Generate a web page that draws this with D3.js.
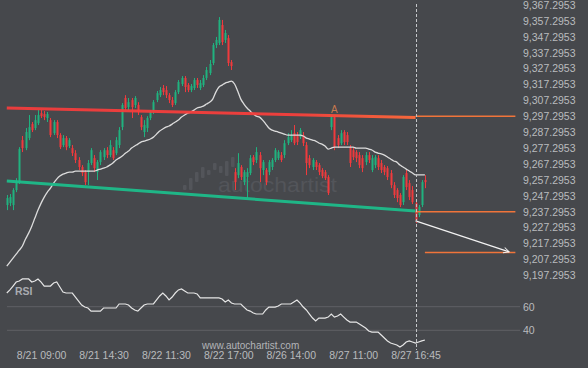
<!DOCTYPE html>
<html><head><meta charset="utf-8">
<script src="https://cdn.jsdelivr.net/npm/d3@7"></script>
<style>html,body{margin:0;padding:0;background:#46484c;overflow:hidden}</style>
</head><body><svg id="c" width="588" height="368"></svg>
<script>
// ---------- data ----------
const priceTicks = [9367.2953, 9357.2953, 9347.2953, 9337.2953, 9327.2953, 9317.2953, 9307.2953, 9297.2953, 9287.2953, 9277.2953, 9267.2953, 9257.2953, 9247.2953, 9237.2953, 9227.2953, 9217.2953, 9207.2953, 9197.2953];
const rsiTicks = [60, 40];
const timeLabelIdx = [11, 31, 51, 71, 91, 111, 131];
const timeLabels = ["8/21 09:00", "8/21 14:30", "8/22 11:30", "8/22 17:00", "8/26 14:00", "8/27 11:00", "8/27 16:45"];

const open = [
9241.5,9242.7,9241.5,9250.9,9255.9,9282.3,9277.3,9283.6,9292.4,9289.9,
9293.0,9299.3,9298.7,9296.2,9294.9,9286.7,9293.7,9285.5,9279.2,9283.6,
9278.6,9277.3,9274.1,9269.8,9265.4,9262.2,9262.2,9267.9,9271.0,9262.2,
9268.5,9271.6,9276.0,9272.9,9276.0,9274.1,9279.2,9290.5,9308.8,9303.1,
9307.5,9304.4,9304.4,9296.8,9287.4,9289.9,9296.2,9300.0,9307.5,9310.6,
9315.1,9313.8,9310.6,9307.5,9305.6,9312.5,9317.6,9321.4,9317.0,9313.8,
9315.1,9320.1,9315.1,9317.0,9321.4,9324.5,9330.8,9342.1,9343.4,9354.7,
9345.3,9346.5,9331.4,9262.2,9260.3,9265.4,9255.9,9259.1,9261.6,9271.6,
9269.8,9272.9,9263.5,9263.5,9262.2,9265.4,9269.8,9271.0,9272.9,9272.9,
9280.4,9282.3,9286.7,9285.5,9284.2,9285.5,9279.2,9271.0,9265.4,9268.5,
9266.6,9263.5,9262.2,9259.1,9290.5,9296.8,9283.6,9280.4,9287.4,9285.5,
9277.9,9276.0,9274.8,9272.9,9271.0,9268.5,9272.9,9263.5,9266.6,9271.0,
9267.9,9265.4,9264.7,9261.6,9254.0,9250.9,9247.8,9243.3,9261.6,9255.3,
9250.9,9242.7,9235.2,9241.5,9257.2];
const high = [
9247.8,9248.4,9252.1,9258.4,9277.9,9284.9,9289.9,9298.1,9293.7,9298.1,
9301.2,9301.2,9300.6,9300.0,9296.2,9294.9,9294.9,9286.7,9285.5,9284.9,
9283.6,9279.2,9276.0,9271.6,9266.6,9263.5,9269.8,9277.3,9272.9,9269.8,
9276.0,9277.3,9277.9,9282.3,9277.9,9284.2,9290.5,9305.6,9310.6,9308.8,
9308.8,9310.0,9306.2,9298.1,9294.9,9297.4,9301.2,9307.5,9313.2,9315.7,
9317.0,9316.3,9311.9,9309.4,9313.8,9320.1,9322.6,9322.6,9318.2,9317.6,
9321.4,9321.4,9320.1,9323.2,9328.3,9332.7,9343.4,9347.2,9359.7,9357.9,
9351.6,9348.4,9332.7,9264.7,9274.1,9266.6,9263.5,9264.7,9272.9,9272.9,
9277.9,9274.8,9269.8,9264.7,9269.8,9271.0,9277.3,9276.0,9274.8,9282.3,
9286.7,9288.6,9291.8,9287.4,9289.9,9287.4,9281.1,9272.9,9271.0,9269.8,
9267.9,9264.7,9263.5,9260.3,9297.4,9297.4,9285.5,9288.6,9288.6,9287.4,
9279.2,9277.9,9276.0,9274.8,9272.9,9274.8,9274.8,9272.9,9272.9,9272.9,
9269.8,9266.6,9266.0,9263.5,9255.9,9252.1,9249.0,9260.3,9263.5,9257.2,
9253.4,9244.6,9241.5,9257.2,9260.3];
const low = [
9238.3,9240.8,9238.3,9249.6,9254.7,9274.8,9276.0,9282.3,9287.4,9288.6,
9291.8,9296.2,9294.9,9293.7,9284.2,9285.5,9283.6,9276.7,9277.9,9276.0,
9277.3,9272.3,9267.9,9263.5,9259.7,9254.0,9254.0,9266.6,9262.2,9257.2,
9266.6,9269.8,9271.0,9271.6,9269.8,9272.9,9277.3,9288.6,9301.2,9301.2,
9296.2,9302.5,9298.1,9288.6,9284.2,9287.4,9294.9,9298.7,9306.2,9309.4,
9310.6,9308.8,9305.6,9303.1,9304.4,9311.3,9316.3,9312.5,9312.5,9312.5,
9313.8,9315.1,9313.8,9315.7,9320.1,9323.2,9329.5,9340.2,9342.1,9342.1,
9343.4,9328.9,9326.4,9250.9,9258.4,9257.2,9254.0,9245.9,9260.3,9266.6,
9267.9,9255.9,9260.3,9254.0,9260.3,9263.5,9268.5,9269.8,9268.5,9271.0,
9279.2,9281.1,9279.2,9279.2,9283.0,9278.6,9260.3,9264.7,9263.5,9263.5,
9260.3,9258.4,9257.2,9247.8,9288.6,9276.0,9277.3,9279.2,9279.2,9279.2,
9265.4,9269.8,9268.5,9264.7,9262.2,9266.6,9267.9,9262.2,9264.7,9263.5,
9261.6,9260.3,9257.2,9252.1,9245.9,9243.3,9240.2,9241.5,9250.9,9244.6,
9242.1,9230.1,9233.9,9240.2,9252.1];
const close = [
9245.9,9246.5,9250.9,9255.9,9276.7,9277.3,9287.4,9290.5,9288.6,9294.9,
9298.1,9297.4,9296.8,9298.7,9285.5,9293.7,9285.5,9277.9,9283.6,9277.9,
9282.3,9274.1,9269.8,9265.4,9261.6,9255.9,9267.9,9276.0,9264.7,9268.5,
9274.8,9276.0,9272.9,9279.2,9271.0,9282.3,9288.6,9304.4,9302.5,9306.2,
9303.1,9308.8,9300.0,9290.5,9291.8,9296.2,9300.0,9306.2,9311.9,9313.8,
9312.5,9310.6,9307.5,9304.4,9312.5,9318.9,9321.4,9315.7,9313.8,9316.3,
9320.1,9317.0,9318.2,9321.4,9326.4,9330.2,9342.1,9345.3,9357.9,9344.0,
9349.7,9330.8,9328.9,9255.9,9267.9,9259.1,9262.2,9262.2,9271.0,9268.5,
9274.8,9264.7,9268.5,9255.9,9268.5,9269.8,9276.0,9274.8,9269.8,9280.4,
9284.2,9285.5,9280.4,9281.1,9288.6,9280.4,9267.9,9266.6,9269.8,9265.4,
9262.2,9259.7,9258.4,9249.0,9296.8,9277.9,9279.2,9286.7,9281.1,9281.1,
9267.9,9271.6,9271.0,9266.6,9264.7,9272.9,9269.8,9271.0,9271.6,9265.4,
9263.5,9262.2,9259.1,9254.0,9247.8,9245.9,9241.5,9259.1,9252.8,9246.5,
9243.3,9232.0,9240.2,9255.9,9255.9];
const movingAvg = [
9203.1,9205.6,9208.1,9210.6,9213.1,9215.7,9220.1,9223.8,9228.2,9233.3,
9238.3,9242.7,9246.5,9249.6,9252.1,9255.3,9257.8,9259.7,9260.9,9261.6,
9262.2,9262.2,9262.8,9262.8,9262.8,9262.8,9262.8,9262.8,9262.8,9263.5,
9264.1,9264.7,9265.4,9266.6,9267.9,9269.8,9271.0,9272.3,9274.1,9275.4,
9277.3,9278.6,9279.8,9281.1,9281.7,9282.3,9283.0,9284.2,9286.1,9288.0,
9289.3,9290.5,9291.2,9292.4,9293.7,9294.9,9296.8,9298.1,9299.3,9300.0,
9301.2,9302.5,9303.1,9303.7,9305.0,9306.2,9308.1,9312.5,9315.7,9316.9,
9318.2,9318.8,9319.4,9317.6,9313.2,9308.1,9305.0,9302.5,9300.6,9298.7,
9297.4,9296.8,9294.9,9292.4,9289.9,9288.6,9288.0,9287.4,9286.7,9286.1,
9285.5,9285.5,9285.5,9285.5,9285.5,9284.9,9283.6,9283.0,9282.3,9281.7,
9280.5,9279.8,9278.6,9276.7,9277.3,9277.9,9277.9,9277.9,9277.9,9277.9,
9277.9,9277.9,9277.3,9277.3,9277.3,9277.3,9276.7,9276.1,9274.8,9274.2,
9273.6,9272.9,9271.7,9270.4,9269.2,9268.5,9266.6,9265.4,9264.1,9262.9,
9261.6,9260.4,9260.4,9260.4,9260.4];
const rsi = [
71.6,74.2,77.5,80.9,81.8,83.5,83.5,83.5,80.9,81.8,
83.5,80.9,77.5,77.5,77.5,80.1,80.9,76.7,72.5,71.6,
71.6,71.6,68.2,64.8,61.4,59.7,58.9,56.3,56.3,56.3,
56.3,58.9,58.9,58.9,58.9,58.9,62.3,62.3,62.3,61.4,
58.9,57.2,56.3,58.9,61.4,62.3,62.3,62.3,65.7,69.1,
71.6,69.1,65.7,68.2,71.6,74.2,75.0,73.3,71.6,71.6,
71.6,70.8,67.4,67.4,67.4,67.4,67.4,67.4,67.4,66.5,
64.0,65.7,63.1,62.3,62.3,62.3,59.7,57.2,56.3,54.6,
53.8,53.8,53.8,57.2,59.7,59.7,59.7,60.6,62.3,62.3,
62.3,62.3,64.0,65.7,63.1,59.7,57.2,53.8,50.4,47.9,
50.4,50.4,50.4,51.2,53.8,51.2,52.1,53.8,51.2,48.7,
47.0,47.0,47.0,45.3,43.6,41.9,39.4,38.5,38.5,38.5,
36.0,33.5,31.0,29.2,28.4,27.5,25.8,27.5,30.1,31.0,
30.1,29.2,30.1,31.0,31.8];

const resistance = [[0, 9302.5], [131, 9296.5]];
const support = [[0, 9256.6], [131, 9237.7]];
const levels = [9297.2953, 9237.2953];
const levelSpan = [131, 163];
const target = 9211.6;
const targetSpan = [134, 163];
const forecast = [[131, 9231.5], [161, 9212.0]];
const pointA = {i: 105, p: 9299.1, label: "A"};
const patternEnd = 131;

// ---------- drawing ----------
const svg = d3.select("#c");
const BG = "#46484c", TXT = "#b9bbbe", UP = "#20b27f", DN = "#f03a3d";
const font = "'Liberation Sans', Arial, sans-serif";

const x = d3.scaleLinear().domain([0, 134]).range([6.8, 424.9]);
const y = d3.scaleLinear().domain([9197.2953, 9367.2953]).range([275.3, 5]);
const yR = d3.scaleLinear().domain([40, 60]).range([330.3, 306.7]);

svg.append("rect").attr("width", 588).attr("height", 368).attr("fill", BG);

const defs = svg.append("defs");
const grad = defs.append("linearGradient").attr("id", "resGrad")
  .attr("gradientUnits", "userSpaceOnUse")
  .attr("x1", x(0)).attr("x2", x(patternEnd)).attr("y1", 0).attr("y2", 0);
grad.append("stop").attr("offset", 0).attr("stop-color", "#f23c3c");
grad.append("stop").attr("offset", 0.7).attr("stop-color", "#f53f3c");
grad.append("stop").attr("offset", 1).attr("stop-color", "#ff6a3a");
defs.append("marker").attr("id", "arr").attr("viewBox", "-1 -5 10 10")
  .attr("refX", 7).attr("refY", 0).attr("markerWidth", 8).attr("markerHeight", 8)
  .attr("markerUnits", "userSpaceOnUse").attr("orient", "auto")
  .append("path").attr("d", "M0,-3.5L7,0L0,3.5").attr("fill", "none")
  .attr("stroke", "#f2f2f2").attr("stroke-width", 1.2);

// watermark
const wm = svg.append("g").attr("fill", "#53555a");
[[183,185,190],[189,178,190],[195,172,182],[201,167,178],[207,170,175],[213,163,170],[219,166,173],[225,161,176],[231,157,167]]
  .forEach(b => wm.append("rect").attr("x", b[0]).attr("y", b[1]).attr("width", 3.5).attr("height", b[2]-b[1]).attr("rx", 1));
wm.append("text").attr("x", 218).attr("y", 191.5).attr("font-family", font)
  .attr("font-size", 21).attr("textLength", 119).attr("lengthAdjust", "spacingAndGlyphs")
  .text("autochartist");

// RSI grid
svg.append("g").selectAll("line").data(rsiTicks).join("line")
  .attr("x1", 7).attr("x2", 520).attr("y1", d => yR(d)).attr("y2", d => yR(d))
  .attr("stroke", "#5f6165").attr("stroke-width", 1);

// candles
const idx = d3.range(open.length);
const cg = svg.append("g");
cg.selectAll("line").data(idx).join("line")
  .attr("x1", i => Math.round(x(i)) + 0.5).attr("x2", i => Math.round(x(i)) + 0.5)
  .attr("y1", i => y(high[i])).attr("y2", i => y(low[i]))
  .attr("stroke", i => close[i] >= open[i] ? UP : DN).attr("stroke-width", 1);
cg.selectAll("rect").data(idx).join("rect")
  .attr("x", i => Math.round(x(i)) - 0.5).attr("width", 2)
  .attr("y", i => y(Math.max(open[i], close[i])))
  .attr("height", i => Math.max(1, Math.abs(y(open[i]) - y(close[i]))))
  .attr("fill", i => close[i] >= open[i] ? UP : DN);

// moving average
svg.append("path").datum(idx)
  .attr("d", d3.line().x(i => x(i)).y(i => y(movingAvg[i])).curve(d3.curveMonotoneX))
  .attr("fill", "none").attr("stroke", "#dcdcdc").attr("stroke-width", 1.3);

// pattern lines
const pl = d3.line().x(d => x(d[0])).y(d => y(d[1]));
svg.append("path").datum(resistance).attr("d", pl).attr("stroke", "url(#resGrad)")
  .attr("stroke-width", 3).attr("fill", "none").attr("opacity", 0.95);
svg.append("path").datum(support).attr("d", pl).attr("stroke", "#1dbd8a")
  .attr("stroke-width", 3).attr("fill", "none").attr("opacity", 0.95);

// level lines
svg.append("g").selectAll("line").data(levels).join("line")
  .attr("x1", x(levelSpan[0])).attr("x2", x(levelSpan[1]))
  .attr("y1", d => y(d)).attr("y2", d => y(d))
  .attr("stroke", "#f0743a").attr("stroke-width", 1.5);
svg.append("line").attr("x1", x(targetSpan[0])).attr("x2", x(targetSpan[1]))
  .attr("y1", y(target)).attr("y2", y(target))
  .attr("stroke", "#f0743a").attr("stroke-width", 1.6);

// forecast arrow
svg.append("line").attr("x1", x(forecast[0][0])).attr("y1", y(forecast[0][1]))
  .attr("x2", x(forecast[1][0])).attr("y2", y(forecast[1][1]))
  .attr("stroke", "#f2f2f2").attr("stroke-width", 1.2).attr("marker-end", "url(#arr)");

// dashed vertical at pattern end
svg.append("line").attr("x1", Math.round(x(patternEnd)) + 0.5).attr("x2", Math.round(x(patternEnd)) + 0.5)
  .attr("y1", 4).attr("y2", 350).attr("stroke", "#c4c6c9").attr("stroke-width", 1)
  .attr("stroke-dasharray", "3,2");

// point A
svg.append("text").attr("x", x(pointA.i)).attr("y", y(pointA.p)).attr("text-anchor", "middle")
  .attr("font-family", font).attr("font-size", 10).attr("fill", "#c97a4e").text(pointA.label);

// RSI line
svg.append("path").datum(idx)
  .attr("d", d3.line().x(i => x(i)).y(i => yR(rsi[i])))
  .attr("fill", "none").attr("stroke", "#e6e6e6").attr("stroke-width", 1.2);
svg.append("text").attr("x", 15).attr("y", 294.5).attr("font-family", font)
  .attr("font-size", 10.5).attr("font-weight", "bold").attr("fill", "#a9abb0").text("RSI");

// axes
const fmt = d3.format(",.4f");
const pa = svg.append("g").attr("transform", "translate(523,0)")
  .call(d3.axisRight(y).tickValues(priceTicks).tickFormat(fmt).tickSize(0).tickPadding(0));
const ra = svg.append("g").attr("transform", "translate(523,0)")
  .call(d3.axisRight(yR).tickValues(rsiTicks).tickFormat(d3.format("d")).tickSize(0).tickPadding(0));
const xa = svg.append("g").attr("transform", "translate(0,352)")
  .call(d3.axisBottom(x).tickValues(timeLabelIdx).tickFormat((d, k) => timeLabels[k]).tickSize(0).tickPadding(0));
[pa, ra, xa].forEach(g => {
  g.select(".domain").remove();
  g.selectAll("text").attr("fill", TXT).attr("font-family", font).attr("font-size", 10.5);
});

svg.append("text").attr("x", 202).attr("y", 348.5).attr("font-family", font)
  .attr("font-size", 10).attr("fill", "#b3b5b8").text("www.autochartist.com");
</script>
</body></html>
